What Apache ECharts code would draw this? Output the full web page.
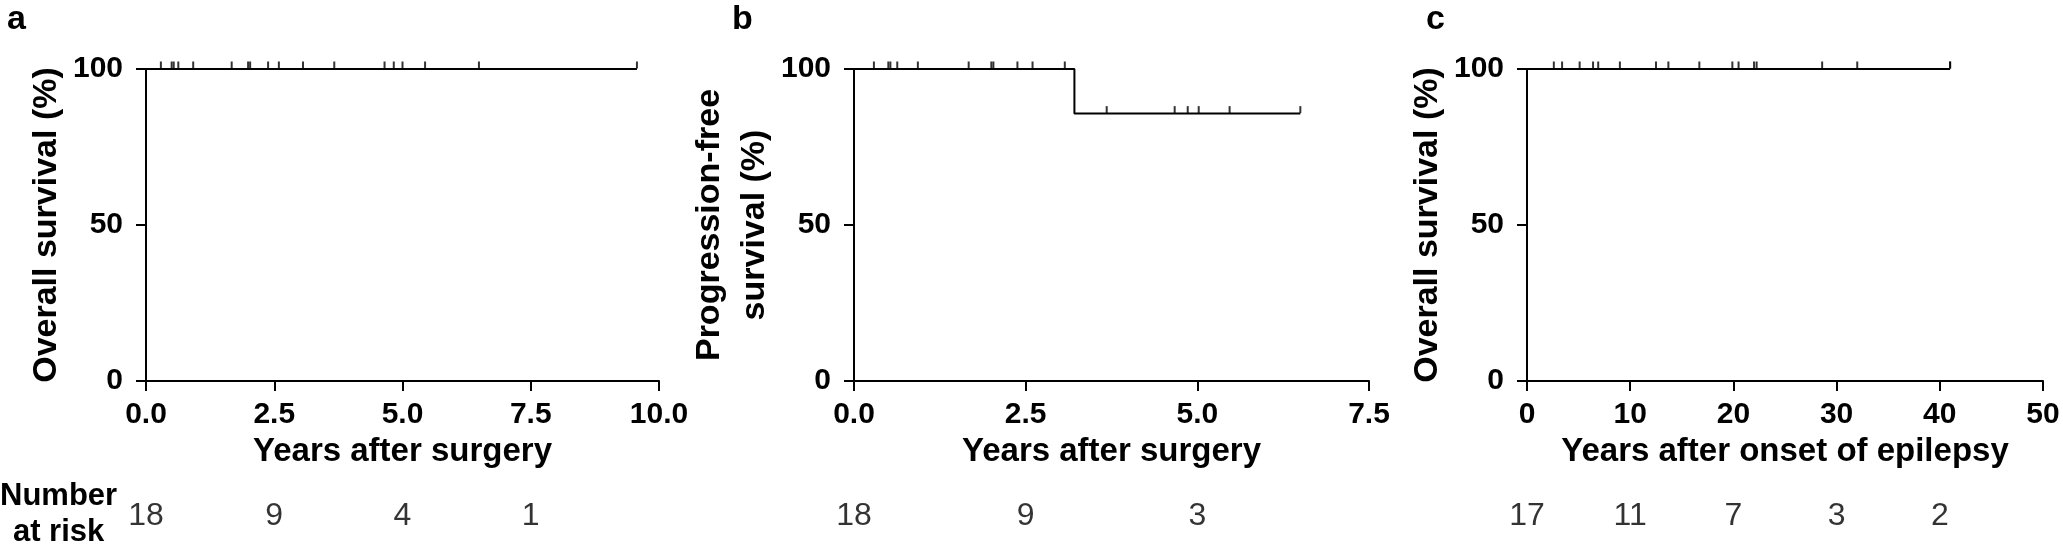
<!DOCTYPE html>
<html><head><meta charset="utf-8">
<script src="https://cdn.jsdelivr.net/npm/echarts@6/dist/echarts.min.js"></script>
<style>html,body{margin:0;padding:0;background:#fff}#c{width:2063px;height:551px}</style>
</head><body><div id="c"></div>
<script>
// ---- data ----
const panelLetters = ['a', 'b', 'c'];
const yTitles = ['Overall survival (%)', 'Progression-free\nsurvival (%)', 'Overall survival (%)'];
const xTitles = ['Years after surgery', 'Years after surgery', 'Years after onset of epilepsy'];
const yTickLabels = ['0', '50', '100'];
const xTickLabelsA = ['0.0', '2.5', '5.0', '7.5', '10.0'];
const xTickLabelsB = ['0.0', '2.5', '5.0', '7.5'];
const xTickLabelsC = ['0', '10', '20', '30', '40', '50'];

// Kaplan-Meier step curves [years, survival %]
const curveA = [[0, 100], [9.57, 100]];
const curveB = [[0, 100], [3.21, 85.7], [6.50, 85.7]];
const curveC = [[0, 100], [41.0, 100]];

// censored observations [years, survival %]
const censorA = [[0.29,100],[0.50,100],[0.54,100],[0.63,100],[0.92,100],[1.67,100],[1.99,100],[2.03,100],[2.38,100],[2.59,100],[3.06,100],[3.67,100],[4.65,100],[4.83,100],[5.00,100],[5.44,100],[6.49,100],[9.57,100]];
const censorB = [[0.29,100],[0.50,100],[0.53,100],[0.63,100],[0.93,100],[1.67,100],[2.00,100],[2.03,100],[2.38,100],[2.60,100],[3.07,100],[3.68,85.7],[4.67,85.7],[4.86,85.7],[5.02,85.7],[5.47,85.7],[6.50,85.7]];
const censorC = [[2.6,100],[3.4,100],[5.1,100],[6.4,100],[6.9,100],[9.0,100],[12.5,100],[13.7,100],[16.7,100],[19.9,100],[20.5,100],[22.0,100],[22.25,100],[28.6,100],[32.0,100],[41.0,100],[41.0,100]];

// number at risk
const riskTimesA = [0, 2.5, 5, 7.5];
const riskA = [18, 9, 4, 1];
const riskTimesB = [0, 2.5, 5];
const riskB = [18, 9, 3];
const riskTimesC = [0, 10, 20, 30, 40];
const riskC = [17, 11, 7, 3, 2];
const riskHeader = 'Number\nat risk';

// ---- chart ----
const FONT = "'Liberation Sans', Arial, sans-serif";
const panels = [
  {left: 146, width: 513, max: 10, interval: 2.5, xl: xTickLabelsA, curve: curveA, cens: censorA, rt: riskTimesA, r: riskA, nameGapY: 72},
  {left: 854, width: 515, max: 7.5, interval: 2.5, xl: xTickLabelsB, curve: curveB, cens: censorB, rt: riskTimesB, r: riskB, nameGapY: 28},
  {left: 1527, width: 516, max: 50, interval: 10, xl: xTickLabelsC, curve: curveC, cens: censorC, rt: riskTimesC, r: riskC, nameGapY: 72}
];
const letterX = [2, 727, 1421];

const grid = [], xAxis = [], yAxis = [], series = [], title = [];
const axisLine = {show: true, lineStyle: {color: '#000', width: 2}};
const axisTick = {show: true, inside: false, length: 10, lineStyle: {color: '#000', width: 2}};

panels.forEach((p, i) => {
  grid.push({left: p.left, width: p.width, top: 69, height: 312});
  grid.push({left: p.left, width: p.width, top: 515, height: 1});
  const gi = i * 2;
  xAxis.push({
    type: 'value', gridIndex: gi, min: 0, max: p.max, interval: p.interval,
    axisLine, axisTick, splitLine: {show: false},
    axisLabel: {margin: 19, color: '#000', fontFamily: FONT, fontWeight: 'bold', fontSize: 30,
      formatter: (v) => p.xl[Math.round(v / p.interval)]},
    name: xTitles[i], nameLocation: 'middle', nameGap: 54,
    nameTextStyle: {color: '#000', fontFamily: FONT, fontWeight: 'bold', fontSize: 33}
  });
  yAxis.push({
    type: 'value', gridIndex: gi, min: 0, max: 100, interval: 50,
    axisLine, axisTick, splitLine: {show: false},
    axisLabel: {margin: 23, color: '#000', fontFamily: FONT, fontWeight: 'bold', fontSize: 30,
      formatter: (v) => yTickLabels[Math.round(v / 50)]},
    name: yTitles[i], nameLocation: 'middle', nameGap: p.nameGapY,
    nameTextStyle: {color: '#000', fontFamily: FONT, fontWeight: 'bold', fontSize: 34, lineHeight: 45}
  });
  // risk row axes (hidden)
  xAxis.push({type: 'value', gridIndex: gi + 1, min: 0, max: p.max, show: false});
  yAxis.push({type: 'value', gridIndex: gi + 1, min: 0, max: 1, show: false});

  series.push({
    type: 'line', xAxisIndex: gi, yAxisIndex: gi, data: p.curve, step: 'end',
    showSymbol: false, symbol: 'none', lineStyle: {color: '#000', width: 2}, silent: true, z: 3
  });
  series.push({
    type: 'scatter', xAxisIndex: gi, yAxisIndex: gi, data: p.cens,
    symbol: 'rect', symbolSize: [2, 7], symbolOffset: [0, -4],
    itemStyle: {color: '#000'}, silent: true, z: 4
  });
  series.push({
    type: 'scatter', xAxisIndex: gi + 1, yAxisIndex: gi + 1,
    data: p.rt.map((t, k) => [t, 0, p.r[k]]), symbolSize: 0, silent: true,
    label: {show: true, position: 'inside', formatter: (d) => String(d.value[2]),
      color: '#000', fontFamily: FONT, fontSize: 32}
  });
  title.push({text: panelLetters[i], left: letterX[i], top: -2,
    textStyle: {color: '#000', fontFamily: FONT, fontWeight: 'bold', fontSize: 34}});
});

const chart = echarts.init(document.getElementById('c'), null, {renderer: 'canvas'});
chart.setOption({
  animation: false,
  backgroundColor: '#fff',
  title, grid, xAxis, yAxis, series,
  graphic: [{
    type: 'text', left: 0, top: 478,
    style: {text: riskHeader, fill: '#000', font: 'bold 31px ' + FONT, textAlign: 'center', lineHeight: 36}
  }]
});
</script></body></html>
